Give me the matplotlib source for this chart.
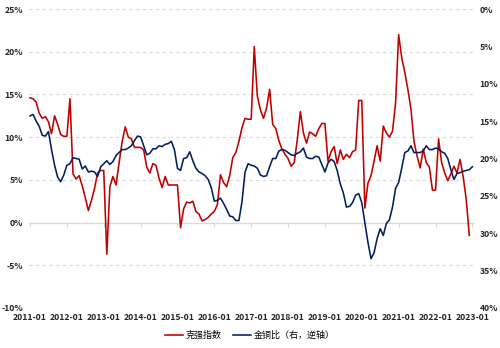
import numpy as np
import matplotlib
matplotlib.use("Agg")
import matplotlib.pyplot as plt
from matplotlib.ticker import FuncFormatter

plt.rcParams['font.family'] = ['Liberation Sans Narrow', 'Noto Sans CJK SC', 'DejaVu Sans']

# monthly data, 2011-01 onwards (%)
keqiang = [
    14.6, 14.5, 14.1, 12.8, 12.2, 12.4, 11.8, 10.4, 12.5, 11.5, 10.3, 10.1,
    10.1, 14.5, 5.7, 5.1, 5.5, 4.3, 2.9, 1.4, 2.6, 4.0, 5.8, 6.1,
    6.1, -3.7, 4.2, 5.4, 4.4, 7.0, 9.5, 11.2, 10.0, 9.8, 8.8, 8.8,
    8.8, 8.5, 6.5, 5.8, 6.9, 6.7, 5.2, 4.1, 5.4, 4.4, 4.4, 4.4,
    4.4, -0.6, 1.6, 2.4, 2.3, 2.5, 1.3, 1.0, 0.2, 0.35, 0.6, 1.0,
    1.3, 2.1, 5.6, 4.7, 4.2, 5.5, 7.6, 8.2, 9.5, 11.1, 12.2, 12.1,
    12.1, 20.6, 14.8, 13.2, 12.2, 13.4, 15.6, 11.5, 11.0, 9.6, 8.6, 8.0,
    7.5, 6.6, 7.0, 9.7, 13.0, 10.5, 9.3, 10.6, 10.4, 10.1, 11.0, 11.6,
    11.6, 7.2, 8.3, 8.9, 6.9, 8.5, 7.4, 8.0, 7.6, 8.3, 8.5, 14.3,
    14.3, 1.7, 4.6, 5.5, 7.2, 9.0, 7.2, 11.3, 10.5, 10.0, 10.7, 14.0,
    22.0, 19.3, 17.6, 15.6, 13.3, 9.5, 7.8, 6.4, 8.6, 7.0, 6.5, 3.8,
    3.8, 9.8, 7.0, 5.8, 4.9, 5.7, 6.6, 5.8, 7.4, 5.4, 2.7, -1.5,
]

gold_copper = [
    14.3, 14.1, 15.0, 15.7, 16.9, 17.0, 16.4, 18.8, 20.9, 22.5, 23.1, 22.2,
    20.9, 20.7, 19.9, 20.0, 20.1, 21.4, 21.0, 21.8, 21.7, 21.8, 22.4, 21.1,
    20.7, 20.3, 20.8, 20.4, 19.6, 19.2, 18.8, 18.8, 18.6, 18.3, 17.6, 17.0,
    17.1, 18.3, 19.5, 19.3, 18.7, 18.7, 18.3, 18.4, 18.1, 18.0, 17.7, 18.8,
    21.3, 21.6, 20.0, 19.9, 19.1, 20.3, 21.3, 21.8, 22.0, 22.3, 22.8, 23.9,
    25.7, 25.6, 25.3, 26.0, 26.8, 27.7, 27.8, 28.3, 28.3, 25.8, 21.8, 20.7,
    20.9, 21.0, 21.3, 22.2, 22.4, 22.3, 21.1, 20.0, 20.0, 19.0, 18.8, 18.9,
    19.2, 19.5, 19.6, 19.3, 19.1, 18.6, 19.8, 20.0, 20.0, 19.7, 19.8, 20.8,
    21.8, 20.6, 20.1, 20.4, 21.6, 23.4, 24.6, 26.5, 26.4, 25.9, 24.9, 24.7,
    25.9, 28.6, 31.2, 33.4, 32.6, 30.7, 29.4, 30.3, 28.7, 28.2, 26.5, 24.0,
    23.2, 21.3, 19.2, 19.0, 18.3, 19.2, 19.2, 19.2, 19.0, 18.3, 18.8, 18.8,
    18.6, 18.7, 19.1, 19.3, 20.0, 21.5, 22.8, 22.0, 21.9, 21.7, 21.6, 21.5,
    21.1,
]

year_labels = ['2011-01', '2012-01', '2013-01', '2014-01', '2015-01', '2016-01',
               '2017-01', '2018-01', '2019-01', '2020-01', '2021-01', '2022-01',
               '2023-01']

RED = '#C00000'
NAVY = '#002060'
GRID = '#D9D9D9'
TXT = '#262626'
FS = 6.2

x_kq = np.arange(len(keqiang))
x_gc = np.arange(len(gold_copper))
year_ticks = np.arange(len(year_labels)) * 12

fig = plt.figure(figsize=(5, 3.48), dpi=100)
ax = fig.add_axes([0.058, 0.115, 0.89, 0.859])
ax2 = ax.twinx()

l1, = ax.plot(x_kq, keqiang, color=RED, lw=1.15, label='克强指数', zorder=3)
l2, = ax2.plot(x_gc, gold_copper, color=NAVY, lw=1.15, label='金铜比（右，逆轴）', zorder=3)

ax.set_xlim(-0.33, 144.53)
ax.set_ylim(-10, 25)
ax2.set_ylim(40, 0)

pct = FuncFormatter(lambda v, _: '%d%%' % v)
ax.set_yticks(np.arange(-10, 26, 5))
ax.yaxis.set_major_formatter(pct)
ax2.set_yticks(np.arange(0, 41, 5))
ax2.yaxis.set_major_formatter(pct)

# dashed grid, solid zero line
for v in np.arange(-10, 26, 5):
    if v == 0:
        continue
    ax.axhline(v, color=GRID, lw=0.8, ls=(0, (3, 3)), zorder=0)

for a in (ax, ax2):
    for s in a.spines.values():
        s.set_visible(False)

ax.spines['bottom'].set_visible(True)
ax.spines['bottom'].set_position(('data', 0))
ax.spines['bottom'].set_color(GRID)
ax.spines['bottom'].set_linewidth(0.9)
ax.set_xticks(year_ticks)
ax.tick_params(axis='x', direction='out', length=3, color=GRID, labelbottom=False)
ax.tick_params(axis='y', length=0, pad=4.5, labelsize=FS, labelcolor=TXT)
ax2.tick_params(axis='y', length=0, pad=4, labelsize=FS, labelcolor=TXT)
for lab in ax.get_yticklabels() + ax2.get_yticklabels():
    lab.set_fontweight('bold')

# year labels along the bottom edge
sec = ax.secondary_xaxis(0.0)
sec.set_xticks(year_ticks)
sec.set_xticklabels(year_labels)
sec.spines['bottom'].set_visible(False)
sec.tick_params(axis='x', length=0, pad=3.5, labelsize=FS, labelcolor=TXT)
for lab in sec.get_xticklabels():
    lab.set_fontweight('bold')

fig.legend(handles=[l1, l2], loc='lower center', bbox_to_anchor=(0.5, 0.0),
           ncol=2, frameon=False, handlelength=2.0, handletextpad=0.3,
           columnspacing=1.2, prop={'family': ['Noto Sans CJK SC'], 'size': 6.5})

fig.savefig('out.png', dpi=100)
